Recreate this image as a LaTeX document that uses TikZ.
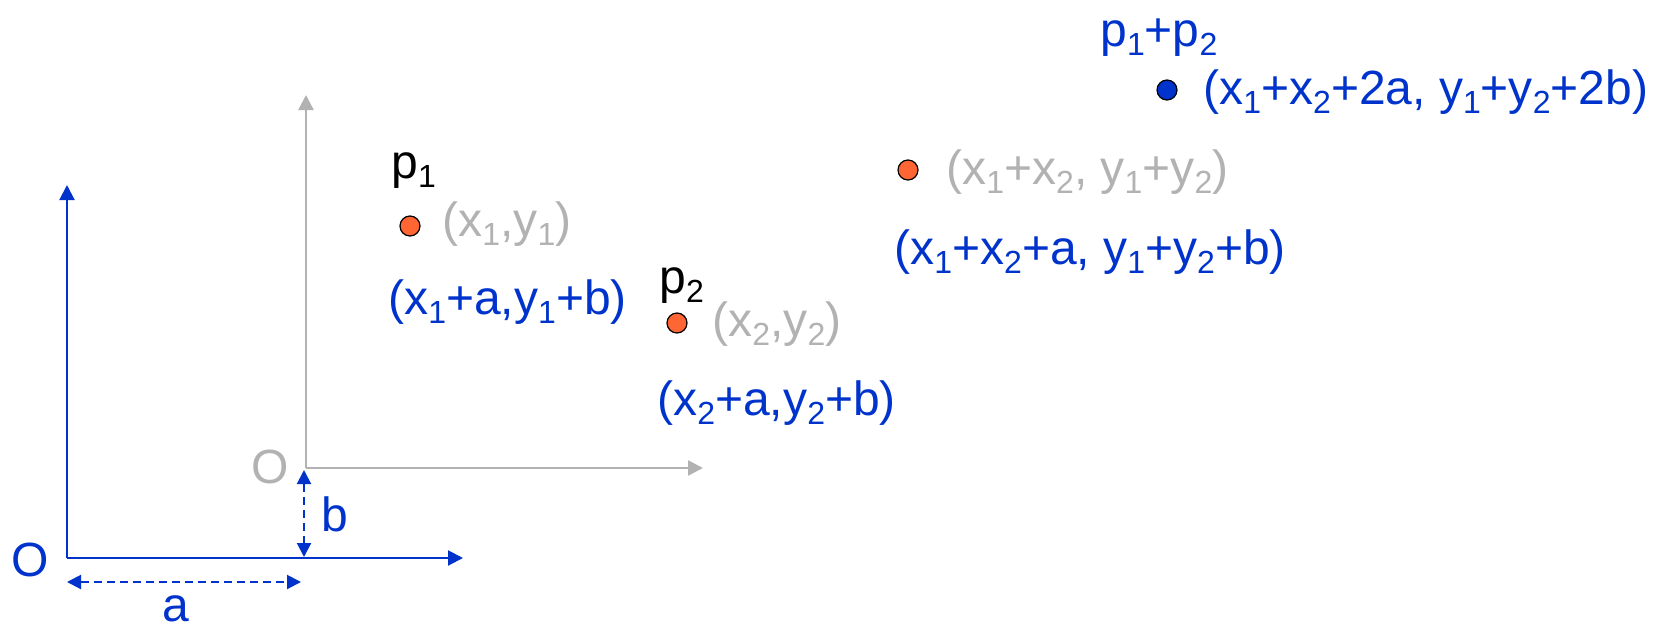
\documentclass[tikz,border=0pt]{standalone}
\usepackage{fontspec}
\setmainfont{Liberation Sans}
\usetikzlibrary{arrows.meta}
\definecolor{myblue}{RGB}{0,51,204}
\definecolor{mygray}{RGB}{178,178,178}
\definecolor{myorange}{RGB}{255,102,51}
\newcommand\sbs[1]{\raisebox{-0.2em}{\fontsize{16}{16}\selectfont #1}}
\begin{document}
\begin{tikzpicture}[x=0.5pt,y=-0.5pt,
  lbl/.style={font=\fontsize{24}{28}\selectfont, inner sep=0pt, anchor=base west},
  clbl/.style={font=\fontsize{24}{28}\selectfont, inner sep=0pt, anchor=center},
  tip/.style={-{Triangle[length=7.5pt,width=7.5pt]}},
  dtip/.style={{Triangle[length=7pt,width=7pt]}-{Triangle[length=7pt,width=7pt]}},
  baxis/.style={myblue, line width=1pt, tip},
  gaxis/.style={mygray, line width=1.2pt, tip},
  dimarrow/.style={myblue, line width=1pt, dash pattern=on 4pt off 2.5pt, dtip},
  odot/.style={circle, draw=black, fill=myorange, line width=0.6pt, minimum size=10pt, inner sep=0pt},
  bdot/.style={circle, draw=black, fill=myblue, line width=0.6pt, minimum size=10pt, inner sep=0pt}]
\useasboundingbox (0,0) rectangle (1659,627);
% blue axes
\coordinate (bo) at (67,558);
\coordinate (bx) at (463,558);
\coordinate (by) at (67,185);
\draw[baxis] (bo) -- (bx);
\draw[baxis] (bo) -- (by);
% gray axes
\coordinate (go) at (306,468);
\coordinate (gx) at (703,468);
\coordinate (gy) at (306,95);
\draw[gaxis] (go) -- (gx);
\draw[gaxis] (go) -- (gy);
% dimension arrows
\coordinate (aL) at (67,582);
\coordinate (aR) at (301,582);
\draw[dimarrow] (aL) -- (aR);
\coordinate (bT) at (304,470);
\coordinate (bB) at (304,557);
\draw[dimarrow] (bB) -- (bT);
% labels of origins and offsets
\node[clbl, text=myblue] (Ob) at (30,560) {O};
\node[clbl, text=mygray] (Og) at (270,467) {O};
\node[clbl, text=myblue] (la) at (176,609) {a};
\node[clbl, text=myblue] (lb) at (335,514) {b};
% p1
\node[odot] (p1) at (410,226) {};
\node[lbl] (p1n) at (391,178) {p\sbs{1}};
\node[lbl, text=mygray] (p1g) at (442,236) {(x\sbs{1},y\sbs{1})};
\node[lbl, text=myblue] (p1b) at (388,314) {(x\sbs{1}+a,y\sbs{1}+b)};
% p2
\node[odot] (p2) at (677,323) {};
\node[lbl] (p2n) at (659,293) {p\sbs{2}};
\node[lbl, text=mygray] (p2g) at (712,336) {(x\sbs{2},y\sbs{2})};
\node[lbl, text=myblue] (p2b) at (657,415) {(x\sbs{2}+a,y\sbs{2}+b)};
% sum (gray)
\node[odot] (s) at (908,170) {};
\node[lbl, text=mygray] (sg) at (946,184) {(x\sbs{1}+x\sbs{2}, y\sbs{1}+y\sbs{2})};
\node[lbl, text=myblue] (sb) at (894,264) {(x\sbs{1}+x\sbs{2}+a, y\sbs{1}+y\sbs{2}+b)};
% sum (blue)
\node[bdot] (t) at (1167,90) {};
\node[lbl, text=myblue] (tn) at (1100,46) {p\sbs{1}+p\sbs{2}};
\node[lbl, text=myblue] (tb) at (1203,104) {(x\sbs{1}+x\sbs{2}+2a, y\sbs{1}+y\sbs{2}+2b)};
\end{tikzpicture}
\end{document}
